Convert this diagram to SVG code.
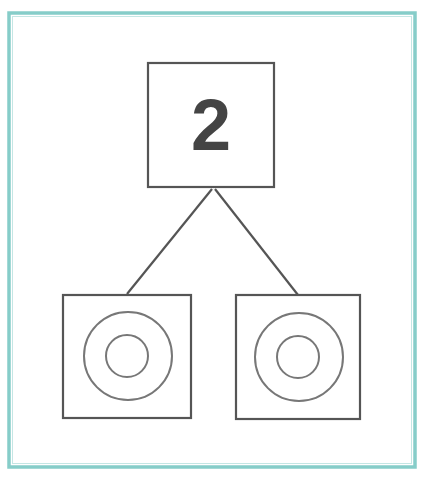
<svg xmlns="http://www.w3.org/2000/svg" width="424" height="477" viewBox="0 0 424 477">
<style>
.box{fill:#fff;stroke:#555;stroke-width:2.2}
.ring{fill:none;stroke:#777;stroke-width:2}
.edge{stroke:#555;stroke-width:2.2;fill:none}
</style>
<rect width="424" height="477" fill="#fff"/>
<rect x="9" y="13" width="406" height="454" fill="none" stroke="#86cdc9" stroke-width="3.5"/>
<rect x="12.5" y="16.5" width="399" height="447" fill="none" stroke="#c4e6e4" stroke-width="1"/>
<g id="connectors">
<line class="edge" x1="212" y1="189" x2="127" y2="294"/>
<line class="edge" x1="215" y1="189" x2="298" y2="295"/>
</g>
<g id="n-top">
<rect class="box" x="148" y="63" width="126" height="124"/>
<text x="211" y="150" text-anchor="middle" font-family="Liberation Sans, Arial, sans-serif" font-weight="bold" font-size="72" fill="#444">2</text>
</g>
<g id="n-left">
<rect class="box" x="63" y="295" width="128" height="123"/>
<circle class="ring" cx="128" cy="356" r="44"/>
<circle class="ring" cx="127" cy="356" r="21"/>
</g>
<g id="n-right">
<rect class="box" x="236" y="295" width="124" height="124"/>
<circle class="ring" cx="299" cy="357" r="44"/>
<circle class="ring" cx="298" cy="357" r="21"/>
</g>
</svg>
